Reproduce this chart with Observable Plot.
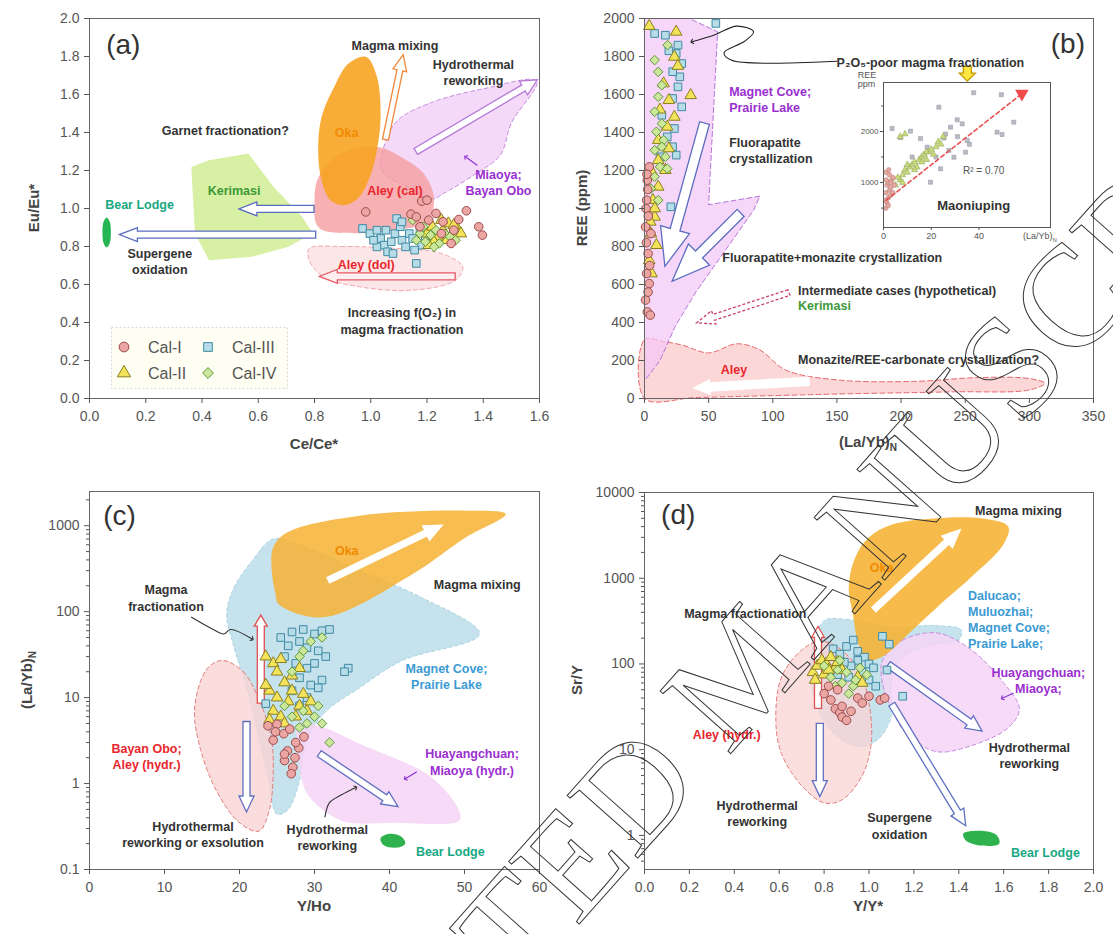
<!DOCTYPE html>
<html><head><meta charset="utf-8">
<script src="https://cdn.jsdelivr.net/npm/d3@7"></script>
<script src="https://cdn.jsdelivr.net/npm/@observablehq/plot@0.6"></script>
<style>
body{margin:0;background:#fff;font-family:Arial,"Liberation Sans",Helvetica,sans-serif}
#wrap{position:relative;width:1113px;height:934px;overflow:hidden;background:#fff}
.lab{position:absolute;font-weight:bold;font-size:15px;color:#444;white-space:nowrap}
</style></head>
<body><div id="wrap"></div>
<script>
// ---------------- DATA ----------------
const TYPES = ["Cal-I","Cal-II","Cal-III","Cal-IV"];
// Tick labels
const aXTicks = [0,0.2,0.4,0.6,0.8,1.0,1.2,1.4,1.6];
const aYTicks = [0,0.2,0.4,0.6,0.8,1.0,1.2,1.4,1.6,1.8,2.0];
const bXTicks = [0,50,100,150,200,250,300,350];
const bYTicks = [0,200,400,600,800,1000,1200,1400,1600,1800,2000];
const cXTicks = [0,10,20,30,40,50,60];
const cYTicks = [0.1,1,10,100,1000];
const dXTicks = [0,0.2,0.4,0.6,0.8,1.0,1.2,1.4,1.6,1.8,2.0];
const dYTicks = [1,10,100,1000,10000];

// Panel (a): Ce/Ce* vs Eu/Eu*
const a_cal1 = [[0.982,0.982],[1.181,1.039],[1.2,1.044],[1.143,0.970],[1.232,0.974],[1.340,0.988],[1.313,0.942],[1.384,0.904],[1.397,0.860],[1.286,0.816],[1.251,0.868],[1.206,0.939],[1.175,0.904],[1.257,0.930],[1.162,0.956],[1.295,0.886]];
const a_cal2 = [[1.2,0.868],[1.219,0.904],[1.238,0.851],[1.257,0.886],[1.276,0.921],[1.289,0.868],[1.308,0.895],[1.270,0.833],[1.225,0.825],[1.251,0.939],[1.321,0.868],[1.206,0.807],[1.295,0.912]];
const a_cal3 = [[0.971,0.895],[1.162,0.711],[0.997,0.868],[1.022,0.886],[1.035,0.842],[1.048,0.807],[1.060,0.772],[1.073,0.825],[1.086,0.868],[1.092,0.947],[1.105,0.904],[1.111,0.833],[1.124,0.798],[1.137,0.868],[1.149,0.842],[1.175,0.886],[1.181,0.807],[1.194,0.851],[1.022,0.798],[1.054,0.886],[1.079,0.763],[1.111,0.930],[1.010,0.833],[1.213,0.816],[1.156,0.781]];
const a_cal4 = [[1.149,0.939],[1.175,0.868],[1.194,0.825],[1.213,0.860],[1.232,0.886],[1.244,0.816],[1.263,0.868],[1.282,0.851],[1.187,0.904],[1.225,0.798],[1.302,0.833],[1.162,0.833]];
const a_oka = [[0.984,1.798],[1.022,1.693],[1.035,1.482],[1.022,1.307],[0.997,1.167],[0.959,1.061],[0.908,1.018],[0.857,1.044],[0.825,1.149],[0.813,1.307],[0.825,1.482],[0.870,1.640],[0.921,1.763]];
const a_aleyCal = [[1.022,1.325],[1.12,1.26],[1.19,1.18],[1.225,1.05],[1.20,0.93],[1.086,0.886],[0.95,0.87],[0.815,0.90],[0.80,1.044],[0.815,1.167],[0.895,1.289]];
const a_aleyDol = [[0.781,0.789],[0.895,0.80],[1.086,0.79],[1.251,0.763],[1.327,0.693],[1.302,0.623],[1.149,0.570],[0.959,0.588],[0.832,0.640],[0.781,0.728]];
const a_kerimasi = [[0.362,1.219],[0.425,1.254],[0.565,1.289],[0.654,1.114],[0.756,0.956],[0.794,0.868],[0.705,0.798],[0.578,0.746],[0.425,0.728],[0.375,0.868]];
const a_miaoya = [[1.04,1.20],[1.06,1.38],[1.10,1.47],[1.22,1.56],[1.40,1.63],[1.59,1.67],[1.50,1.45],[1.46,1.28],[1.36,1.17],[1.26,1.08],[1.22,1.05],[1.15,1.10]];
const a_bear = [[0.061,0.953],[0.072,0.93],[0.076,0.874],[0.072,0.818],[0.061,0.795],[0.050,0.818],[0.046,0.874],[0.050,0.93]];
const a_arrows = [[1.054,1.36,1.117,1.807,"orange"],[1.162,1.298,1.594,1.675,"purple"],[0.80,0.995,0.533,0.995,"blue"],[0.806,0.86,0.108,0.86,"blue"],[1.302,0.64,0.819,0.64,"red"]];
const a_ptr = [[1.378,1.228],[1.337,1.272]];
const a_text = [[1.086,1.86,"Magma mixing","dark"],[1.365,1.72,"Hydrothermal\nreworking","dark"],[0.483,1.412,"Garnet fractionation?","dark"],[0.514,1.1,"Kerimasi","green"],[0.178,1.026,"Bear Lodge","teal"],[0.25,0.724,"Supergene\noxidation","dark"],[0.914,1.404,"Oka","orange"],[1.086,1.1,"Aley (cal)","red"],[0.984,0.711,"Aley (dol)","red"],[1.454,1.14,"Miaoya;\nBayan Obo","purple"],[1.111,0.412,"Increasing f(O\u2082) in\nmagma fractionation","dark"]];

// Panel (b): (La/Yb)N vs REE
const b_cal1 = [[3.7,1219],[2.2,1149],[1.7,1044],[0.8,903],[2.8,763],[1.7,658],[3.7,605],[0.8,518],[2.2,456],[4.5,439],[5,868],[1.2,1000],[2.5,1100],[3,960],[1.5,820],[2.8,560],[4,700],[1.9,1180]];
const b_cal2 = [[3.7,1960],[24.7,1930],[23.3,1798],[14.9,1658],[36,1596],[19,1570],[23.3,1482],[10.7,1360],[19,1316],[6.5,1184],[10.7,1114],[6.5,1044],[7.9,956],[5,868],[3.7,728],[5.6,658],[10.7,1254],[16.3,1202],[9.3,807],[17.7,1430],[8,1000],[4.5,930],[12,1520],[26,1750]];
const b_cal3 = [[7.9,1921],[16.3,1912],[55.6,1974],[26.1,1860],[24.7,1816],[29,1763],[27.5,1693],[26.1,1640],[21.9,1579],[29,1535],[23.3,1421],[13.5,1491],[24.7,1281],[20.5,1009],[17.7,1377],[12.1,1272],[21.9,1325],[19,1830],[22,1720]];
const b_cal4 = [[7.9,1781],[10.7,1719],[13.5,1649],[10.7,1588],[7.9,1509],[13.5,1447],[9.3,1404],[14.9,1360],[7.9,1307],[16.3,1272],[12.1,1219],[7.9,1167],[17.7,1210],[13.5,1325],[5,1105],[10.7,1044],[18,1860]];
const b_magnet = [[0,2000],[35,2000],[57,1930],[50,1020],[90,1065],[85,990],[62,770],[40,560],[24,380],[12,200],[2,110],[0,100]];
const b_aley = [[0,0],[0,310],[15,300],[30,280],[50,240],[72,288],[90,255],[110,150],[150,98],[210,90],[260,110],[300,105],[312,80],[300,45],[240,35],[160,25],[100,15],[40,5]];
const b_arrows = [[47.2,1447,16.3,693,"blueBig"],[75.3,974,21.9,614,"blueBig"],[113,555,41,395,"redDash"],[128.7,88,38.8,53,"aleyWhite"],[252,1745,252,1668,"yellow"]];
const b_ptr = [[150,1775],[68,1780],[62,1820],[78,1880],[85,1930],[72,1960],[55,1915],[37,1878]];
const b_text = [[66,1579,"Magnet Cove;\nPrairie Lake","purple"],[66,1307,"Fluorapatite\ncrystallization","dark"],[60.7,746,"Fluorapatite+monazite crystallization","dark"],[119.7,570,"Intermediate cases (hypothetical)","dark"],[119.7,491,"Kerimasi","green"],[119.7,210,"Monazite/REE-carbonate crystallization?","dark"],[149.7,1772,"P\u2082O\u2085-poor magma fractionation","dark"]];
const b_textMid = [[69.7,158,"Aley","red"]];

// Inset (Maoniuping)
const insetCirc = [[1,500],[1.5,600],[2,700],[1,800],[2.5,850],[3,900],[1.5,950],[2,1000],[3.5,1050],[4,1100],[2.5,1150],[1,1200],[3,750],[4.5,950],[0.8,650],[2,550],[3,1000],[1.2,1050],[4,800],[2.2,1250]];
const insetTri = [[5,950],[7,1050],[8,1150],[9,1250],[10,1200],[11,1300],[12,1350],[13,1400],[14,1300],[15,1450],[16,1500],[17,1550],[18,1450],[19,1600],[20,1650],[22,1700],[23,1800],[24,1750],[21,1550],[25,1900],[6,1100],[10,1350],[13,1250],[16,1400],[18,1600],[8,1000],[7,1900],[9,1950]];
const insetSq = [[37.8,2759],[23.2,2477],[30.9,2230],[49.4,2720],[54.6,2183],[47.6,1987],[49.7,1942],[11.3,2007],[19.7,1007],[23.9,1270],[35.1,1824],[25.3,1871],[28.1,2085],[34.4,1595],[3.6,2060],[7.1,1880],[15.5,1862],[18.3,1693],[29.5,1497],[27.4,1630],[31,1900],[26,1950],[22,1500],[12,1500],[36,1750],[33,2150]];
const insetTrend = [[1,650],[58,2740]];
const insetXTicks = [0,20,40];
const insetYTicks = [1000,2000];

// Panel (c): Y/Ho vs (La/Yb)N
const c_cal1 = [[23.8,4.7],[24.5,3.2],[25.9,3.8],[26.4,2.4],[26,1.85],[27.1,1.55],[27.9,2.6],[28.6,3.5],[25,4.9],[26.7,4.3],[26.9,1.3],[26,2.2],[27.4,2.0],[24.8,4.0],[27.5,3.0]];
const c_cal2 = [[23.5,30],[24.5,25],[25,20],[25.5,28],[26,15],[24,12],[25,10],[26.5,9],[27,12],[28,8],[28.5,11],[24.5,7],[25.5,6],[26,5],[27.5,6],[29,7],[23.5,14],[27,18],[28,22],[29.5,9],[24,5.5]];
const c_cal3 = [[25.5,50],[27,58],[28.5,62],[30,55],[31,60],[32,62],[26.5,40],[28,45],[29,38],[30.5,35],[31.5,30],[26,30],[27.5,25],[29,22],[30,25],[31,16],[29.5,14],[30.5,13],[28,17],[34.5,22],[34,20],[27,12],[29,10],[23.5,8.5],[28,8]];
const c_cal4 = [[28.5,35],[29.5,45],[31,50],[27,20],[28,30],[26,8],[27,6],[28.5,7],[30,6],[31,5],[29,5],[30.5,8],[28,4.5],[32,3]];
const c_blue = [[18.3,94],[19.3,192],[21.7,392],[24.5,700],[28,600],[36,300],[44,150],[52,55],[41.7,27],[36,13],[31.2,6.5],[28.8,2.9],[27.9,1],[26.4,0.49],[25,0.44],[23.8,1.2],[22.6,3.4],[21.2,11],[19.3,38]];
const c_oka = [[24.8,161],[24.3,300],[24.5,560],[26.4,837],[36,1306],[50.2,1494],[55.5,1366],[50.2,732],[43.1,274],[31.2,86],[25.2,123]];
const c_pink = [[17.9,27],[20.5,20],[22.5,10],[24.2,3.5],[24.5,1.5],[24,0.5],[22.6,0.28],[20,0.35],[17,0.8],[14.8,2.5],[14,7],[15,17],[16.2,24]];
const c_purple = [[27.9,5],[31.2,4.5],[36,2.9],[45.5,1.2],[49.3,0.48],[49.3,0.37],[40.7,0.35],[33.6,0.37],[29.3,0.7],[28.3,1.1],[27.9,1.8]];
const c_bear = [[38.8,0.23],[40,0.26],[41.6,0.24],[42.1,0.2],[41,0.18],[39.3,0.19]];
const c_arrows = [[31.9,229,47.1,1000,"white"],[22.9,8.5,22.9,90,"cRed"],[21,5.2,21,0.46,"cBlue"],[30.7,2.2,41.2,0.53,"cBlue"]];
const c_ptr1 = [[13.6,86],[16.5,62],[17.9,55],[18.8,62],[21.7,48]];
const c_ptr2 = [[31.4,0.41],[32,0.6],[33.6,0.74],[35.5,0.9]];
const c_ptr3 = [[43.6,1.36],[42.1,1.14]];
const c_text = [[10.2,147,"Magma\nfractionation","dark"],[51.7,210,"Magma mixing","dark"],[47.6,18,"Magnet Cove;\nPrairie Lake","blue"],[7.6,2.1,"Bayan Obo;\nAley (hydr.)","red"],[51,1.82,"Huayangchuan;\nMiaoya (hydr.)","purple"],[13.8,0.26,"Hydrothermal\nreworking or exsolution","dark"],[31.7,0.238,"Hydrothermal\nreworking","dark"],[48.1,0.166,"Bear Lodge","teal"],[34.3,521,"Oka","orange"]];

// Panel (d): Y/Y* vs Sr/Y
const d_cal1 = [[0.80,45],[0.83,38],[0.85,30],[0.87,27],[0.88,24],[0.9,22],[0.88,32],[0.92,28],[0.95,40],[0.97,35],[1.0,42],[1.05,38],[1.07,40],[0.86,50],[0.82,55]];
const d_cal2 = [[0.75,80],[0.77,95],[0.79,110],[0.81,100],[0.83,120],[0.85,90],[0.8,75],[0.76,65],[0.86,105],[0.88,85],[0.82,85],[0.95,70],[0.97,60]];
const d_cal3 = [[0.84,150],[0.87,130],[0.9,160],[0.93,190],[0.95,140],[0.98,120],[1.0,100],[1.02,90],[0.95,110],[0.92,95],[0.89,105],[1.06,210],[1.09,170],[1.08,85],[1.15,42],[1.0,65],[0.97,80],[0.86,75],[1.03,55],[0.91,70]];
const d_cal4 = [[0.8,95],[0.83,70],[0.86,85],[0.88,60],[0.9,80],[0.93,55],[0.96,90],[0.99,75],[0.87,110],[0.94,65],[0.91,45],[0.85,55]];
const d_blue = [[0.80,320],[0.9,330],[1.0,300],[1.1,270],[1.3,280],[1.41,250],[1.4,190],[1.3,170],[1.15,120],[1.1,60],[1.1,25],[1.05,14],[0.98,11],[0.9,12],[0.82,18],[0.76,35],[0.74,70],[0.75,150]];
const d_oka = [[0.93,360],[0.91,800],[0.94,1780],[1.0,3000],[1.1,4200],[1.3,5000],[1.5,5000],[1.62,4000],[1.6,2500],[1.45,1000],[1.34,560],[1.18,230],[1.06,122],[0.99,110],[0.95,180]];
const d_pink = [[0.78,185],[0.87,150],[0.96,80],[1.0,35],[1.01,12],[0.97,5],[0.88,2.6],[0.8,2.4],[0.7,3.8],[0.61,9],[0.585,22],[0.61,70],[0.7,145]];
const d_purple = [[1.06,110],[1.15,190],[1.3,230],[1.45,150],[1.6,60],[1.67,30],[1.62,18],[1.45,11],[1.3,9.5],[1.17,15],[1.1,30],[1.06,60]];
const d_bear = [[1.42,1.05],[1.5,1.13],[1.57,1.0],[1.58,0.8],[1.5,0.76],[1.43,0.88]];
const d_arrows = [[1.024,425,1.409,3640,"white"],[0.775,30,0.775,270,"cRed"],[0.783,20,0.783,2.8,"cBlue"],[1.088,97,1.506,16.2,"cBlue"],[1.104,33.5,1.433,1.28,"cBlue"]];
const d_ptr = [[1.642,45.6],[1.594,39.8]];
const d_text = [[1.666,6230,"Magma mixing","dark"],[0.449,390,"Magma fractionation","dark"],[1.754,65,"Huayangchuan;\nMiaoya;","purple"],[0.366,15.3,"Aley (hydr.)","red"],[1.714,8.7,"Hydrothermal\nreworking","dark"],[0.502,1.82,"Hydrothermal\nreworking","dark"],[1.136,1.31,"Supergene\noxidation","dark"],[1.786,0.65,"Bear Lodge","teal"],[1.056,1362,"Oka","orange"]];
const d_textStart = [[1.441,337,"Dalucao;\nMuluozhai;\nMagnet Cove;\nPrairie Lake;","blue"]];

const watermarkText = "ACCEPTED MANUSCRIPT";

// ---------------- STYLES & HELPERS ----------------
const FONT = "Arial, 'Liberation Sans', Helvetica, sans-serif";
const SYM = {"Cal-I":"circle","Cal-II":"triangle","Cal-III":"square","Cal-IV":"diamond2"};
const FILL = {"Cal-I":"#eba6a4","Cal-II":"#f2e35a","Cal-III":"#b6dce8","Cal-IV":"#cde79a"};
const STROKE = {"Cal-I":"#9c4a4a","Cal-II":"#8a7f22","Cal-III":"#3e8aa3","Cal-IV":"#5b983c"};
const TXT = {dark:"#333333", red:"#e8262c", purple:"#9a2fd0", blue:"#3a9ad4", green:"#3f9a3a", teal:"#17a883", orange:"#f08a00"};
const ARROW = {
  orange:{w:3,hw:7,hl:16,stroke:"#f0883c",fill:"#fff"},
  purple:{w:3.5,hw:8,hl:16,stroke:"#b579d8",fill:"#fff"},
  blue:{w:3.5,hw:7,hl:18,stroke:"#5a6cc0",fill:"#fff"},
  red:{w:3.5,hw:7,hl:18,stroke:"#e65a68",fill:"#ffeef0"},
  blueBig:{w:5,hw:15,hl:38,stroke:"#5a6cc0",fill:"#fff"},
  redDash:{w:3,hw:7,hl:18,stroke:"#c8406a",fill:"#fff",dash:"3,2"},
  aleyWhite:{w:4,hw:7,hl:16,stroke:"#fff",fill:"#fff"},
  white:{w:3,hw:8,hl:18,stroke:"#fff",fill:"#fff"},
  yellow:{w:4,hw:8,hl:8,stroke:"#c09a00",fill:"#ffe640"},
  cRed:{w:3.5,hw:6.5,hl:11,stroke:"#e05050",fill:"#fff"},
  cBlue:{w:3.5,hw:7.5,hl:16,stroke:"#6070c0",fill:"#fff"}
};
const wrap = document.getElementById("wrap");
function place(el, left, top){ el.style.position="absolute"; el.style.left=left+"px"; el.style.top=top+"px"; wrap.appendChild(el); }
function region(pts, fill, o={}){
  return Plot.line(pts, {x:d=>d[0], y:d=>d[1], curve:o.curve||"catmull-rom-closed", fill, fillOpacity:o.op??1, stroke:o.stroke||"none", strokeWidth:o.sw||1, strokeDasharray:o.dash});
}
function dots(pts, t, r=4.3){ return Plot.dot(pts, {x:d=>d[0], y:d=>d[1], symbol:SYM[t], fill:FILL[t], stroke:STROKE[t], r, strokeWidth:1}); }
function allDots(c1,c2,c3,c4){ return [dots(c3,"Cal-III"), dots(c2,"Cal-II"), dots(c4,"Cal-IV"), dots(c1,"Cal-I")]; }
function labels(list, anchor="middle", size=12.5){
  return Plot.text(list, {x:d=>d[0], y:d=>d[1], text:d=>d[2], fill:d=>TXT[d[3]], fontWeight:"bold", fontSize:size, lineHeight:1.3, textAnchor:anchor});
}
function pointer(pts, color="#333"){ return Plot.line(pts, {x:d=>d[0], y:d=>d[1], curve:"catmull-rom", stroke:color, strokeWidth:1.1, markerEnd:"arrow"}); }
function hollow(list){
  return (index, scales) => {
    const ns="http://www.w3.org/2000/svg";
    const g=document.createElementNS(ns,"g");
    for (const a of list){
      const st=ARROW[a[4]];
      const x1=scales.x(a[0]), y1=scales.y(a[1]), x2=scales.x(a[2]), y2=scales.y(a[3]);
      const dx=x2-x1, dy=y2-y1, L=Math.hypot(dx,dy), ux=dx/L, uy=dy/L, nx=-uy, ny=ux;
      const bx=x2-ux*st.hl, by=y2-uy*st.hl;
      const pts=[[x1+nx*st.w,y1+ny*st.w],[bx+nx*st.w,by+ny*st.w],[bx+nx*st.hw,by+ny*st.hw],[x2,y2],[bx-nx*st.hw,by-ny*st.hw],[bx-nx*st.w,by-ny*st.w],[x1-nx*st.w,y1-ny*st.w]];
      const p=document.createElementNS(ns,"path");
      p.setAttribute("d","M"+pts.map(q=>q[0].toFixed(1)+","+q[1].toFixed(1)).join("L")+"Z");
      p.setAttribute("fill",st.fill); p.setAttribute("stroke",st.stroke); p.setAttribute("stroke-width","1.3");
      if (st.dash) p.setAttribute("stroke-dasharray",st.dash);
      g.appendChild(p);
    }
    return g;
  };
}
function axes(xt, xf, yt, yf, yminor){
  const out=[
    Plot.frame({stroke:"#666", strokeWidth:1}),
    Plot.axisX({ticks:xt, tickFormat:xf, tickSize:5, tickPadding:8, fontSize:14, label:null}),
    Plot.axisY({ticks:yt, tickFormat:yf, tickSize:5, tickPadding:5, fontSize:14, label:null})
  ];
  if (yminor) out.push(Plot.axisY({ticks:yminor, tickFormat:()=>"", tickSize:3, label:null}));
  return out;
}
function panelLetter(x, y, s){ return Plot.text([[x,y,s]], {x:d=>d[0], y:d=>d[1], text:d=>d[2], fontSize:28, fill:"#333", textAnchor:"middle"}); }
function makePanel(c){
  const svg = Plot.plot({width:c.w, height:c.h, marginLeft:c.ml, marginTop:c.mt, marginRight:c.mr, marginBottom:c.mb,
    x:c.x, y:c.y, style:{fontFamily:FONT, fontSize:"14px", color:"#555", background:"transparent", overflow:"visible"}, marks:c.marks});
  place(svg, c.left, c.top);
}
function htmlText(html, cx, cy, o={}){
  const d=document.createElement("div"); d.className="lab"; d.innerHTML=html;
  d.style.left=cx+"px"; d.style.top=cy+"px";
  d.style.transform="translate(-50%,-50%)"+(o.rot?" rotate(-90deg)":"");
  if (o.size) d.style.fontSize=o.size+"px";
  if (o.weight) d.style.fontWeight=o.weight;
  if (o.color) d.style.color=o.color;
  if (o.lh) d.style.lineHeight=o.lh;
  wrap.appendChild(d);
}
const f1 = d3.format(".1f");
const minorC = [0.2,0.3,0.4,0.5,0.6,0.7,0.8,0.9,2,3,4,5,6,7,8,9,20,30,40,50,60,70,80,90,200,300,400,500,600,700,800,900,2000];
const minorD = [0.5,0.6,0.7,0.8,0.9,2,3,4,5,6,7,8,9,20,30,40,50,60,70,80,90,200,300,400,500,600,700,800,900,2000,3000,4000,5000,6000,7000,8000,9000];

// ---------------- PANEL A ----------------
makePanel({left:0, top:0, w:556, h:460, ml:89, mt:18, mr:17, mb:62,
  x:{domain:[0,1.6]}, y:{domain:[0,2]},
  marks:[
    region(a_kerimasi, "#d5ef9e", {curve:"linear-closed", op:0.95}),
    region(a_miaoya, "#f1d0f6", {op:0.8, stroke:"#c58ae0", dash:"4,3"}),
    region(a_aleyDol, "#fde3e6", {op:0.9, stroke:"#f0a3ad", dash:"4,3"}),
    region(a_aleyCal, "#f59ea0", {op:0.8}),
    region(a_oka, "#f7a21e", {op:0.88}),
    region(a_bear, "#25b653"),
    hollow(a_arrows),
    pointer(a_ptr, "#8a2fd0"),
    ...allDots(a_cal1,a_cal2,a_cal3,a_cal4),
    labels(a_text),
    panelLetter(0.12, 1.858, "(a)"),
    ...axes(aXTicks, f1, aYTicks, f1)
  ]});

// ---------------- PANEL B ----------------
makePanel({left:556, top:0, w:557, h:460, ml:88, mt:18, mr:20, mb:62,
  x:{domain:[0,350]}, y:{domain:[0,2000]},
  marks:[
    region(b_aley, "#fbcaca", {curve:"catmull-rom-closed", op:0.75, stroke:"#e5676c", dash:"5,3"}),
    region(b_magnet, "#f4c6f7", {curve:"linear-closed", op:0.7, stroke:"#b475d6", dash:"5,3"}),
    hollow(b_arrows),
    pointer(b_ptr, "#222"),
    ...allDots(b_cal1,b_cal2,b_cal3,b_cal4),
    labels(b_text, "start"),
    labels(b_textMid),
    panelLetter(330, 1868, "(b)"),
    ...axes(bXTicks, d=>String(d), bYTicks, d=>String(d))
  ]});

// inset
(function(){
  const pt = d=>d[0], pv = d=>d[1];
  const svg = Plot.plot({width:240, height:195, marginLeft:43, marginTop:22, marginRight:30, marginBottom:28,
    x:{domain:[0,70]}, y:{domain:[120,2960]},
    style:{fontFamily:FONT, fontSize:"9px", color:"#555", background:"transparent", overflow:"visible"},
    marks:[
      Plot.frame({fill:"white", stroke:"none"}),
      Plot.dot(insetSq, {x:pt, y:pv, symbol:"square", r:2.3, fill:"#a9adb6", stroke:"#8e929a", strokeWidth:0.5, fillOpacity:0.8}),
      Plot.dot(insetTri, {x:pt, y:pv, symbol:"triangle", r:2.4, fill:"#c9d97e", stroke:"#8fa050", strokeWidth:0.5}),
      Plot.dot(insetCirc, {x:pt, y:pv, symbol:"circle", r:2.3, fill:"#e8a8a2", stroke:"#b07870", strokeWidth:0.5}),
      Plot.line(insetTrend, {x:pt, y:pv, stroke:"#e85050", strokeWidth:1.6, strokeDasharray:"4,3"}),
      Plot.dot([insetTrend[1]], {x:pt, y:pv, symbol:"triangle", rotate:180, r:5, fill:"#f04a4a"}),
      Plot.text([[42,1237,"R\u00b2 = 0.70"]], {x:pt, y:pv, text:d=>d[2], fontSize:10, fill:"#555"}),
      Plot.text([[37.8,551,"Maoniuping"]], {x:pt, y:pv, text:d=>d[2], fontSize:13, fontWeight:"bold", fill:"#333"}),
      Plot.frame({stroke:"#555"}),
      Plot.axisX({ticks:insetXTicks, tickFormat:d=>String(d), tickSize:3, tickPadding:2, fontSize:9, label:null}),
      Plot.axisY({ticks:insetYTicks, tickFormat:d=>String(d), tickSize:3, tickPadding:2, fontSize:8, label:null}),
      Plot.axisY({ticks:[500,1500,2500], tickSize:2, tickFormat:()=>"", label:null})
    ]});
  place(svg, 840, 60);
})();
htmlText("REE<br>ppm", 867, 80, {size:9, weight:"normal", color:"#555", lh:"9px"});
htmlText("(La/Yb)<sub style='font-size:6px'>N</sub>", 1040, 237, {size:9, weight:"normal", color:"#555"});

// ---------------- PANEL C ----------------
makePanel({left:0, top:460, w:556, h:474, ml:89, mt:31, mr:17, mb:65,
  x:{domain:[0,60]}, y:{type:"log", domain:[0.1,2500]},
  marks:[
    region(c_blue, "#bcdeea", {op:0.85, stroke:"#a5d2e2", dash:"3,3"}),
    region(c_purple, "#f4d3f6", {op:0.85}),
    region(c_pink, "#f9d3d3", {op:0.8, stroke:"#e37a7a", dash:"4,3"}),
    region(c_oka, "#f6b232", {op:0.85}),
    region(c_bear, "#2fb24e"),
    hollow(c_arrows),
    pointer(c_ptr1, "#333"),
    pointer(c_ptr2, "#333"),
    pointer(c_ptr3, "#8a2fd0"),
    ...allDots(c_cal1,c_cal2,c_cal3,c_cal4),
    labels(c_text),
    panelLetter(4, 1306, "(c)"),
    ...axes(cXTicks, d=>String(d), cYTicks, d=>String(d), minorC)
  ]});

// ---------------- PANEL D ----------------
makePanel({left:556, top:460, w:557, h:474, ml:88, mt:32, mr:20, mb:65,
  x:{domain:[0,2]}, y:{type:"log", domain:[0.4,10000]},
  marks:[
    region(d_blue, "#bcdeea", {op:0.85, stroke:"#a5d2e2", dash:"3,3"}),
    region(d_purple, "#f4d3f6", {op:0.85, stroke:"#c58ae0", dash:"4,3"}),
    region(d_pink, "#f9d3d3", {op:0.75, stroke:"#e37a7a", dash:"4,3"}),
    region(d_oka, "#f6b232", {op:0.88}),
    region(d_bear, "#2fb24e"),
    hollow(d_arrows),
    pointer(d_ptr, "#8a2fd0"),
    ...allDots(d_cal1,d_cal2,d_cal3,d_cal4),
    labels(d_text),
    labels(d_textStart, "start"),
    panelLetter(0.15, 5450, "(d)"),
    ...axes(dXTicks, f1, dYTicks, d=>String(d), minorD)
  ]});

// ---------------- AXIS TITLES ----------------
htmlText("Eu/Eu*", 33, 208, {rot:true});
htmlText("Ce/Ce*", 314, 443);
htmlText("REE (ppm)", 581, 208, {rot:true});
htmlText("(La/Yb)<sub style='font-size:10px'>N</sub>", 868, 443);
htmlText("(La/Yb)<sub style='font-size:10px'>N</sub>", 28, 680, {rot:true});
htmlText("Y/Ho", 314, 905);
htmlText("Sr/Y", 576, 680, {rot:true});
htmlText("Y/Y*", 868, 905);

// ---------------- LEGEND (panel a) ----------------
(function(){
  const ns="http://www.w3.org/2000/svg";
  const svg=document.createElementNS(ns,"svg");
  svg.setAttribute("width",178); svg.setAttribute("height",63);
  const rect=document.createElementNS(ns,"rect");
  rect.setAttribute("x",0.5); rect.setAttribute("y",0.5); rect.setAttribute("width",176); rect.setAttribute("height",61);
  rect.setAttribute("fill","#fffef2"); rect.setAttribute("stroke","#d8d8d0"); rect.setAttribute("stroke-dasharray","2,2");
  svg.appendChild(rect);
  const pos = {"Cal-I":[13,20],"Cal-III":[97,20],"Cal-II":[13,46],"Cal-IV":[97,46]};
  const sym = {circle:d3.symbolCircle, triangle:d3.symbolTriangle, square:d3.symbolSquare, diamond2:d3.symbolDiamond2};
  for (const t of TYPES){
    const [x,y]=pos[t];
    const p=document.createElementNS(ns,"path");
    p.setAttribute("d", d3.symbol(sym[SYM[t]], 75)());
    p.setAttribute("transform",`translate(${x},${y})`);
    p.setAttribute("fill",FILL[t]); p.setAttribute("stroke",STROKE[t]);
    svg.appendChild(p);
    const tx=document.createElementNS(ns,"text");
    tx.setAttribute("x",x+24); tx.setAttribute("y",y+6);
    tx.setAttribute("font-family",FONT); tx.setAttribute("font-size","16"); tx.setAttribute("fill","#555");
    tx.textContent=t; svg.appendChild(tx);
  }
  place(svg, 111, 327);
})();

// ---------------- WATERMARK ----------------
(function(){
  const ns="http://www.w3.org/2000/svg";
  const svg=document.createElementNS(ns,"svg");
  svg.setAttribute("width",1113); svg.setAttribute("height",934);
  svg.style.pointerEvents="none";
  const t=document.createElementNS(ns,"text");
  t.setAttribute("transform","translate(210,1340) rotate(-48.4)");
  t.setAttribute("font-family","'Liberation Serif','Times New Roman',serif");
  t.setAttribute("font-size","144");
  t.setAttribute("fill","none"); t.setAttribute("stroke","#333"); t.setAttribute("stroke-width","1");
  t.textContent=watermarkText;
  svg.appendChild(t);
  place(svg, 0, 0);
})();
</script></body></html>
